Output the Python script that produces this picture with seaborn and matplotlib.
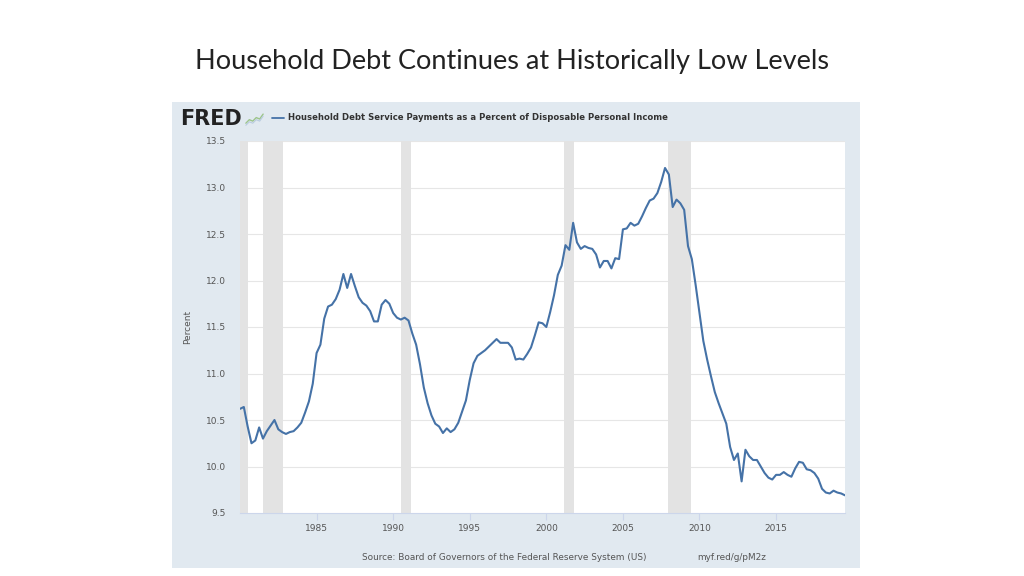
import numpy as np
import pandas as pd
import matplotlib
matplotlib.use("Agg")
import matplotlib.pyplot as plt
import seaborn as sns

# Household debt service payments, % of disposable personal income (quarterly, 1980Q1-2019Q3)
START_YEAR = 1980
TDSP = [
    10.62, 10.64, 10.43, 10.25,  # 1980
    10.28, 10.42, 10.30, 10.38,  # 1981
    10.44, 10.50, 10.40, 10.37,  # 1982
    10.35, 10.37, 10.38, 10.42,  # 1983
    10.47, 10.58, 10.70, 10.89,  # 1984
    11.22, 11.31, 11.59, 11.72,  # 1985
    11.74, 11.80, 11.90, 12.07,  # 1986
    11.92, 12.07, 11.94, 11.82,  # 1987
    11.76, 11.73, 11.67, 11.56,  # 1988
    11.56, 11.74, 11.79, 11.75,  # 1989
    11.65, 11.60, 11.58, 11.60,  # 1990
    11.57, 11.43, 11.31, 11.10,  # 1991
    10.85, 10.68, 10.55, 10.46,  # 1992
    10.43, 10.36, 10.41, 10.37,  # 1993
    10.40, 10.47, 10.59, 10.71,  # 1994
    10.93, 11.11, 11.19, 11.22,  # 1995
    11.25, 11.29, 11.33, 11.37,  # 1996
    11.33, 11.33, 11.33, 11.28,  # 1997
    11.15, 11.16, 11.15, 11.21,  # 1998
    11.28, 11.41, 11.55, 11.54,  # 1999
    11.50, 11.66, 11.84, 12.06,  # 2000
    12.16, 12.38, 12.33, 12.62,  # 2001
    12.41, 12.34, 12.37, 12.35,  # 2002
    12.34, 12.28, 12.14, 12.21,  # 2003
    12.21, 12.13, 12.24, 12.23,  # 2004
    12.55, 12.56, 12.62, 12.59,  # 2005
    12.61, 12.69, 12.78, 12.86,  # 2006
    12.88, 12.94, 13.06, 13.21,  # 2007
    13.14, 12.79, 12.87, 12.83,  # 2008
    12.76, 12.37, 12.23, 11.95,  # 2009
    11.65, 11.35, 11.15, 10.97,  # 2010
    10.80, 10.68, 10.57, 10.46,  # 2011
    10.21, 10.07, 10.14, 9.84,   # 2012
    10.18, 10.11, 10.07, 10.07,  # 2013
    10.00, 9.93, 9.88, 9.86,     # 2014
    9.91, 9.91, 9.94, 9.91,      # 2015
    9.89, 9.98, 10.05, 10.04,    # 2016
    9.97, 9.96, 9.93, 9.87,      # 2017
    9.76, 9.72, 9.71, 9.74,      # 2018
    9.72, 9.71, 9.69,            # 2019
]

# NBER recessions (start, end) in decimal years
RECESSIONS = [(1980.0, 1980.5), (1981.5, 1982.83), (1990.5, 1991.17),
              (2001.17, 2001.83), (2007.92, 2009.42)]

X_TICKS = [1985, 1990, 1995, 2000, 2005, 2010, 2015]
Y_TICKS = [9.5, 10.0, 10.5, 11.0, 11.5, 12.0, 12.5, 13.0, 13.5]

# little zigzag in the FRED logo icon
ICON_LINE = [0.2, 0.45, 0.35, 0.6, 0.5, 0.85]

TITLE = "Household Debt Continues at Historically Low Levels"
SERIES_NAME = "Household Debt Service Payments as a Percent of Disposable Personal Income"
SOURCE = "Source: Board of Governors of the Federal Reserve System (US)"
SHORT_URL = "myf.red/g/pM2z"

LINE_COLOR = "#4572a7"
PANEL_COLOR = "#e1e9f0"
REC_COLOR = "#e3e3e3"

df = pd.DataFrame({
    "year": START_YEAR + np.arange(len(TDSP)) / 4.0,
    "value": TDSP,
})

sns.set_theme(style="white")
plt.rcParams["font.family"] = ["DejaVu Sans"]

fig = plt.figure(figsize=(10.24, 5.76), dpi=100)
fig.patch.set_facecolor("white")

# light FRED panel behind the chart
fig.add_artist(plt.Rectangle((172 / 1024, 1 - 568 / 576), (860 - 172) / 1024, (568 - 102) / 576,
                             transform=fig.transFigure, facecolor=PANEL_COLOR,
                             edgecolor="none", zorder=0))

ax = fig.add_axes([240 / 1024, 1 - 513 / 576, (845 - 240) / 1024, (513 - 141) / 576])
ax.set_facecolor("white")
ax.set_zorder(1)

for y in Y_TICKS[1:]:
    ax.axhline(y, color="#e6e6e6", lw=0.8, zorder=0)

for a, b in RECESSIONS:
    ax.axvspan(a, b, color=REC_COLOR, lw=0, zorder=1)

sns.lineplot(data=df, x="year", y="value", ax=ax, color=LINE_COLOR, lw=1.5, zorder=3)

ax.set_xlim(1980, 2019.5)
ax.set_ylim(9.5, 13.5)
ax.set_xticks(X_TICKS)
ax.set_xticklabels([str(t) for t in X_TICKS])
ax.set_yticks(Y_TICKS)
ax.set_yticklabels([f"{t:.1f}" for t in Y_TICKS])
ax.tick_params(axis="x", length=5, width=0.8, color="#ccd6eb", labelsize=6.5,
               labelcolor="#555555", pad=3, bottom=True)
ax.tick_params(axis="y", length=0, labelsize=6.5, labelcolor="#555555", pad=10)
ax.set_xlabel("")
ax.set_ylabel("Percent", fontsize=6.5, color="#555555", labelpad=10)

for side in ["top", "right", "left"]:
    ax.spines[side].set_visible(False)
ax.spines["bottom"].set_color("#ccd6eb")
ax.spines["bottom"].set_linewidth(0.8)

# header
fig.text(0.5, 1 - 62 / 576, TITLE, ha="center", va="center", fontsize=19.5,
         family="Lato", color="#222222")
fig.text(180 / 1024, 1 - 119 / 576, "FRED", ha="left", va="center", fontsize=15,
         fontweight="heavy", color="#222222")

icon = fig.add_axes([245 / 1024, 1 - 126 / 576, 19 / 1024, 14 / 576])
icon.set_facecolor("#f4f6f4")
sns.lineplot(x=range(len(ICON_LINE)), y=ICON_LINE, ax=icon, color="#9cc48a", lw=1)
sns.lineplot(x=range(len(ICON_LINE)), y=[v - 0.15 for v in ICON_LINE], ax=icon,
             color="#b9cbe0", lw=0.8)
icon.set_ylim(0, 1)
icon.set_axis_off()

fig.add_artist(plt.Line2D([272 / 1024, 284 / 1024], [1 - 118 / 576, 1 - 118 / 576],
                          color=LINE_COLOR, lw=1.3, transform=fig.transFigure))
fig.text(288 / 1024, 1 - 118 / 576, SERIES_NAME, ha="left", va="center", fontsize=6.1,
         fontweight="bold", color="#333333")

# footer
fig.text(362 / 1024, 1 - 558 / 576, SOURCE, ha="left", va="center", fontsize=6.4,
         color="#555555")
fig.text(697 / 1024, 1 - 558 / 576, SHORT_URL, ha="left", va="center", fontsize=6.4,
         color="#555555")

fig.savefig("out.png", dpi=100, facecolor="white")
